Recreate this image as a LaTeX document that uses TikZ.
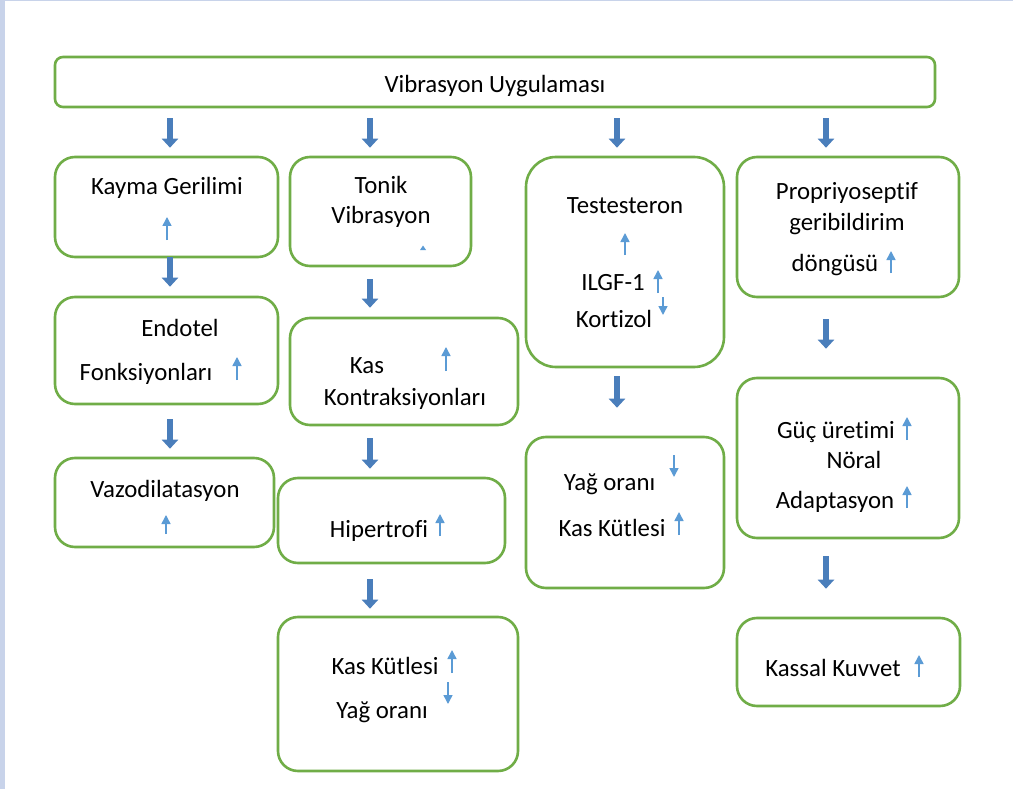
\documentclass[tikz,border=0pt]{standalone}
\usepackage{fontspec}
\setmainfont{Carlito}[Ligatures=NoCommon]
\usetikzlibrary{arrows.meta}
\definecolor{gr}{RGB}{112,173,71}
\definecolor{bigblue}{RGB}{74,126,187}
\definecolor{smallblue}{RGB}{91,155,213}
\definecolor{edgecol}{RGB}{200,211,234}
\begin{document}
\begin{tikzpicture}[x=1pt,y=-1pt,
  box/.style={draw=gr, line width=2.6pt, rounded corners=20pt, fill=white, inner sep=0pt},
  lbl/.style={font=\fontsize{24.8}{29}\selectfont, inner sep=0pt, anchor=base, text=black},
  bigarrow/.style={draw=bigblue, line width=6pt, -{Triangle[width=16pt,length=9pt]}},
  uparrow/.style={draw=smallblue, line width=1.5pt, -{Triangle[width=9pt,length=9pt]}}
  ]
\useasboundingbox (0,0) rectangle (1013,789);
\fill[white] (0,0) rectangle (1013,789);
\fill[edgecol] (0,0) rectangle (5,789);
\fill[edgecol] (0,0) rectangle (1013,1.5);

% boxes
\node[box, rounded corners=8pt, minimum width=880pt, minimum height=50pt] (top) at (495,82) {};
\node[box, minimum width=223pt, minimum height=100pt] (kayma) at (166.5,207) {};
\node[box, minimum width=223pt, minimum height=107pt] (endotel) at (166.5,350.5) {};
\node[box, minimum width=219pt, minimum height=89pt] (vazo) at (164.5,502.5) {};
\node[box, minimum width=181pt, minimum height=109pt] (tonik) at (380.5,211.5) {};
\node[box, minimum width=228pt, minimum height=107pt] (kontr) at (404,371.5) {};
\node[box, minimum width=227pt, minimum height=85pt] (hiper) at (391.5,520.5) {};
\node[box, minimum width=240pt, minimum height=154pt] (kaskut) at (398,694) {};
\node[box, rounded corners=30pt, minimum width=198pt, minimum height=210pt] (testo) at (625,262) {};
\node[box, minimum width=198pt, minimum height=151pt] (yag) at (625,512.5) {};
\node[box, minimum width=222pt, minimum height=140pt] (prop) at (848,227) {};
\node[box, minimum width=222pt, minimum height=160pt] (guc) at (848,458) {};
\node[box, minimum width=223pt, minimum height=88pt] (kassal) at (848.5,662) {};

% arrow columns
\coordinate (c1) at (170,0);
\coordinate (c2) at (370,0);
\coordinate (c3) at (617,0);
\coordinate (c4) at (826,0);

% big arrows
\draw[bigarrow] ([yshift=-10pt]top.south -| c1) -- ([yshift=8pt]kayma.north -| c1);
\draw[bigarrow] ([yshift=-10pt]top.south -| c2) -- ([yshift=8pt]tonik.north -| c2);
\draw[bigarrow] ([yshift=-10pt]top.south -| c3) -- ([yshift=8pt]testo.north -| c3);
\draw[bigarrow] ([yshift=-10pt]top.south -| c4) -- ([yshift=8pt]prop.north -| c4);
\draw[bigarrow] ([yshift=1pt]kayma.south -| c1) -- ([yshift=9pt]endotel.north -| c1);
\draw[bigarrow] ([yshift=-14pt]endotel.south -| c1) -- ([yshift=8pt]vazo.north -| c1);
\draw[bigarrow] ([yshift=-12pt]tonik.south -| c2) -- ([yshift=9pt]kontr.north -| c2);
\draw[bigarrow] ([yshift=-12pt]kontr.south -| c2) -- ([yshift=8pt]hiper.north -| c2);
\draw[bigarrow] ([yshift=-15pt]hiper.south -| c2) -- ([yshift=7pt]kaskut.north -| c2);
\draw[bigarrow] ([yshift=-8pt]testo.south -| c3) -- ([yshift=28pt]yag.north -| c3);
\draw[bigarrow] ([yshift=-21pt]prop.south -| c4) -- ([yshift=28pt]guc.north -| c4);
\draw[bigarrow] ([yshift=-17pt]guc.south -| c4) -- ([yshift=28pt]kassal.north -| c4);

% labels
\node[lbl] (t0) at (495,93) {Vibrasyon Uygulaması};
\node[lbl] (t1) at (167,195) {Kayma Gerilimi};
\node[lbl] (t2) at (180,336) {Endotel};
\node[lbl] (t3) at (146,380) {Fonksiyonları};
\node[lbl] (t4) at (165,497) {Vazodilatasyon};
\node[lbl] (t5) at (381,194) {Tonik};
\node[lbl] (t6) at (381,224) {Vibrasyon};
\node[lbl] (t7) at (367,373) {Kas};
\node[lbl] (t8) at (405,405) {Kontraksiyonları};
\node[lbl] (t9) at (379,537) {Hipertrofi};
\node[lbl] (t10) at (385,674) {Kas Kütlesi};
\node[lbl] (t11) at (382,718) {Yağ oranı};
\node[lbl] (t12) at (625,214) {Testesteron};
\node[lbl] (t13) at (613,290) {ILGF-1};
\node[lbl] (t14) at (614,327) {Kortizol};
\node[lbl] (t15) at (609.5,490) {Yağ oranı};
\node[lbl] (t16) at (612,536) {Kas Kütlesi};
\node[lbl] (t17) at (847,200) {Propriyoseptif};
\node[lbl] (t18) at (847,231) {geribildirim};
\node[lbl] (t19) at (835,272) {döngüsü};
\node[lbl] (t20) at (836,438) {Güç üretimi};
\node[lbl] (t21) at (854,468) {Nöral};
\node[lbl] (t22) at (835,508) {Adaptasyon};
\node[lbl] (t23) at (833,676) {Kassal Kuvvet};

% small up/down arrows
\draw[uparrow] (167,240) -- (167,217);
\fill[smallblue] (420,250) -- (426,250) -- (423,245.5) -- cycle;
\draw[uparrow] (237,380) -- (237,357);
\draw[uparrow] (166,534) -- (166,515);
\draw[uparrow] (446,371) -- (446,347);
\draw[uparrow] (440,536) -- (440,514);
\draw[uparrow] (452,673) -- (452,650);
\draw[uparrow] (448,682) -- (448,704);
\draw[uparrow] (625,255) -- (625,233);
\draw[uparrow] (658,293) -- (658,270);
\draw[uparrow] (663,297) -- (663,315);
\draw[uparrow] (674,455) -- (674,477);
\draw[uparrow] (679,535) -- (679,512);
\draw[uparrow] (891,273) -- (891,251);
\draw[uparrow] (907,440) -- (907,417);
\draw[uparrow] (907,508) -- (907,486);
\draw[uparrow] (919,677) -- (919,655);
\end{tikzpicture}
\end{document}
